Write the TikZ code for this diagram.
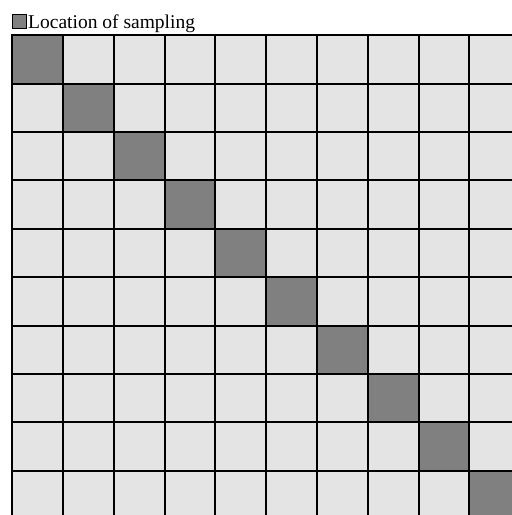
\documentclass[tikz,border=0pt]{standalone}
\usepackage{fontspec}
\setmainfont{Liberation Serif}
\usepackage{xcolor}
\definecolor{cellgray}{HTML}{E4E4E4}
\definecolor{samplegray}{HTML}{808080}
\usepackage{tikz}
\usetikzlibrary{positioning}

\begin{document}
\begin{tikzpicture}[x=1pt, y=-1pt]

  \tikzset{
    cell/.style={fill=cellgray, inner sep=0pt,
                 minimum width=50.8pt, minimum height=48.4pt, anchor=north west},
    sample/.style={cell, fill=samplegray},
    gridline/.style={draw=black, line width=1.7pt}
  }

  \useasboundingbox (0,0) rectangle (512,515);

  % legend
  \node[draw=black, line width=1pt, fill=samplegray, inner sep=0pt,
        minimum width=14pt, minimum height=14pt, anchor=north west] (key)
        at (12,14) {};
  \node[font=\fontsize{19.5}{22}\selectfont, inner sep=0pt, anchor=base west]
        (keytext) at (28,28) {Location of sampling};

  % grid, clipped at the picture edge
  \begin{scope}
    \clip (0,0) rectangle (512,515);
    \foreach \r in {0,...,9}{
      \foreach \c in {0,...,9}{
        \ifnum\r=\c
          \node[sample] (cell-\r-\c) at (12+50.8*\c, 35+48.4*\r) {};
        \else
          \node[cell] (cell-\r-\c) at (12+50.8*\c, 35+48.4*\r) {};
        \fi
      }
    }
    % borders after all fills
    \foreach \r in {0,...,9}{
      \foreach \c in {0,...,9}{
        \draw[gridline] (cell-\r-\c.north west) rectangle (cell-\r-\c.south east);
      }
    }
  \end{scope}

\end{tikzpicture}
\end{document}
